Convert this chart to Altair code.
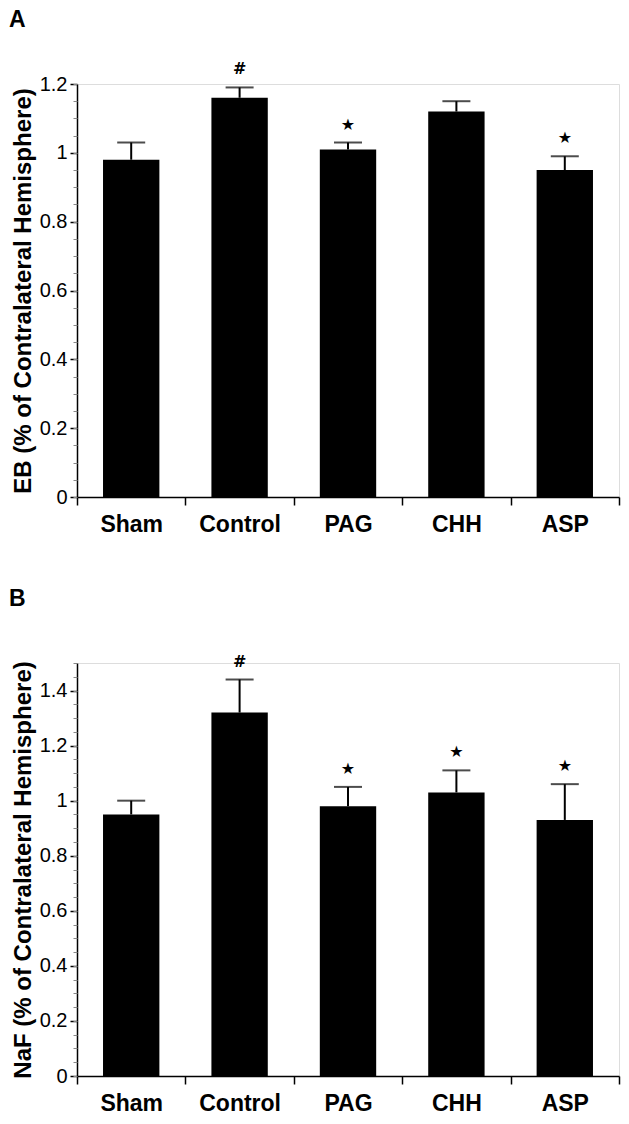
import altair as alt
import pandas as pd

groups = ["Sham", "Control", "PAG", "CHH", "ASP"]

eb_mean = [0.98, 1.16, 1.01, 1.12, 0.95]
eb_top = [1.03, 1.19, 1.03, 1.15, 0.99]
eb_sig = ["", "#", "★", "", "★"]

naf_mean = [0.95, 1.32, 0.98, 1.03, 0.93]
naf_top = [1.00, 1.44, 1.05, 1.11, 1.06]
naf_sig = ["", "#", "★", "★", "★"]

eb_major = [0, 0.2, 0.4, 0.6, 0.8, 1, 1.2]
naf_major = [0, 0.2, 0.4, 0.6, 0.8, 1, 1.2, 1.4]
eb_minor = [round(i * 0.05, 2) for i in range(0, 25)]
naf_minor = [round(i * 0.05, 2) for i in range(0, 31)]

FONT = "Liberation Sans"


def panel(letter, mean, top, sig, ymax, major, minor, ytitle, height):
    df = pd.DataFrame({"group": groups, "mean": mean, "top": top, "sig": sig})
    xaxis = alt.Axis(
        title=None, labelAngle=0, tickBand="extent", tickSize=8, tickWidth=1.5,
        tickColor="black", domainColor="black", domainWidth=1.5,
        labelFont=FONT, labelFontSize=23, labelFontWeight="bold",
        labelColor="black", labelPadding=8,
    )
    xenc = alt.X("group:N", sort=groups, axis=xaxis,
                 scale=alt.Scale(paddingInner=0, paddingOuter=0))
    yscale = alt.Scale(domain=[0, ymax], nice=False, zero=True)
    major_axis = alt.Axis(
        orient="left",
        values=major, format="~g", tickSize=7, tickWidth=1.5, tickColor="black",
        domainColor="black", domainWidth=1.5, labelFont=FONT, labelFontSize=20,
        labelColor="black", labelPadding=3, grid=False,
        title=ytitle, titleFont=FONT, titleFontSize=24, titleFontWeight="bold",
        titleColor="black", titlePadding=4,
    )
    minor_axis = alt.Axis(
        orient="left",
        values=minor, tickSize=4, tickWidth=1, tickColor="#888888", labels=False,
        domain=False, grid=False, title=None,
    )
    base = alt.Chart(df)
    bars = base.mark_bar(color="black", width=alt.RelativeBandSize(0.52)).encode(
        x=xenc, y=alt.Y("mean:Q", scale=yscale, axis=major_axis)
    )
    err = base.mark_rule(color="black", strokeWidth=2).encode(
        x=xenc, y=alt.Y("mean:Q", scale=yscale, axis=minor_axis), y2="top:Q"
    )
    caps = base.mark_tick(color="black", size=28, thickness=2).encode(
        x=xenc, y=alt.Y("top:Q", scale=yscale, axis=None)
    )
    txt = base.mark_text(font="DejaVu Sans", fontSize=16, fontWeight="bold",
                         baseline="middle", dy=-18, color="black").encode(
        x=xenc, y=alt.Y("top:Q", scale=yscale, axis=None), text="sig:N"
    )
    tag = alt.Chart(pd.DataFrame({"tag": [letter]})).mark_text(
        font=FONT, fontSize=23, fontWeight="bold", align="left", baseline="middle",
        color="black"
    ).encode(x=alt.value(-68), y=alt.value(-64), text="tag:N")
    return alt.layer(bars, err, caps, txt, tag).resolve_axis(y="independent").properties(
        width=542, height=height,
    )


a = panel("A", eb_mean, eb_top, eb_sig, 1.2, eb_major, eb_minor,
          "EB (% of Contralateral Hemisphere)", 413)
b = panel("B", naf_mean, naf_top, naf_sig, 1.5, naf_major, naf_minor,
          "NaF (% of Contralateral Hemisphere)", 413)

chart = alt.vconcat(a, b, spacing=50).properties(padding=0).configure_view(
    stroke=None, strokeWidth=0
).configure(background="white")

chart.save("out.html", embed_options={"renderer": "svg", "actions": False})
